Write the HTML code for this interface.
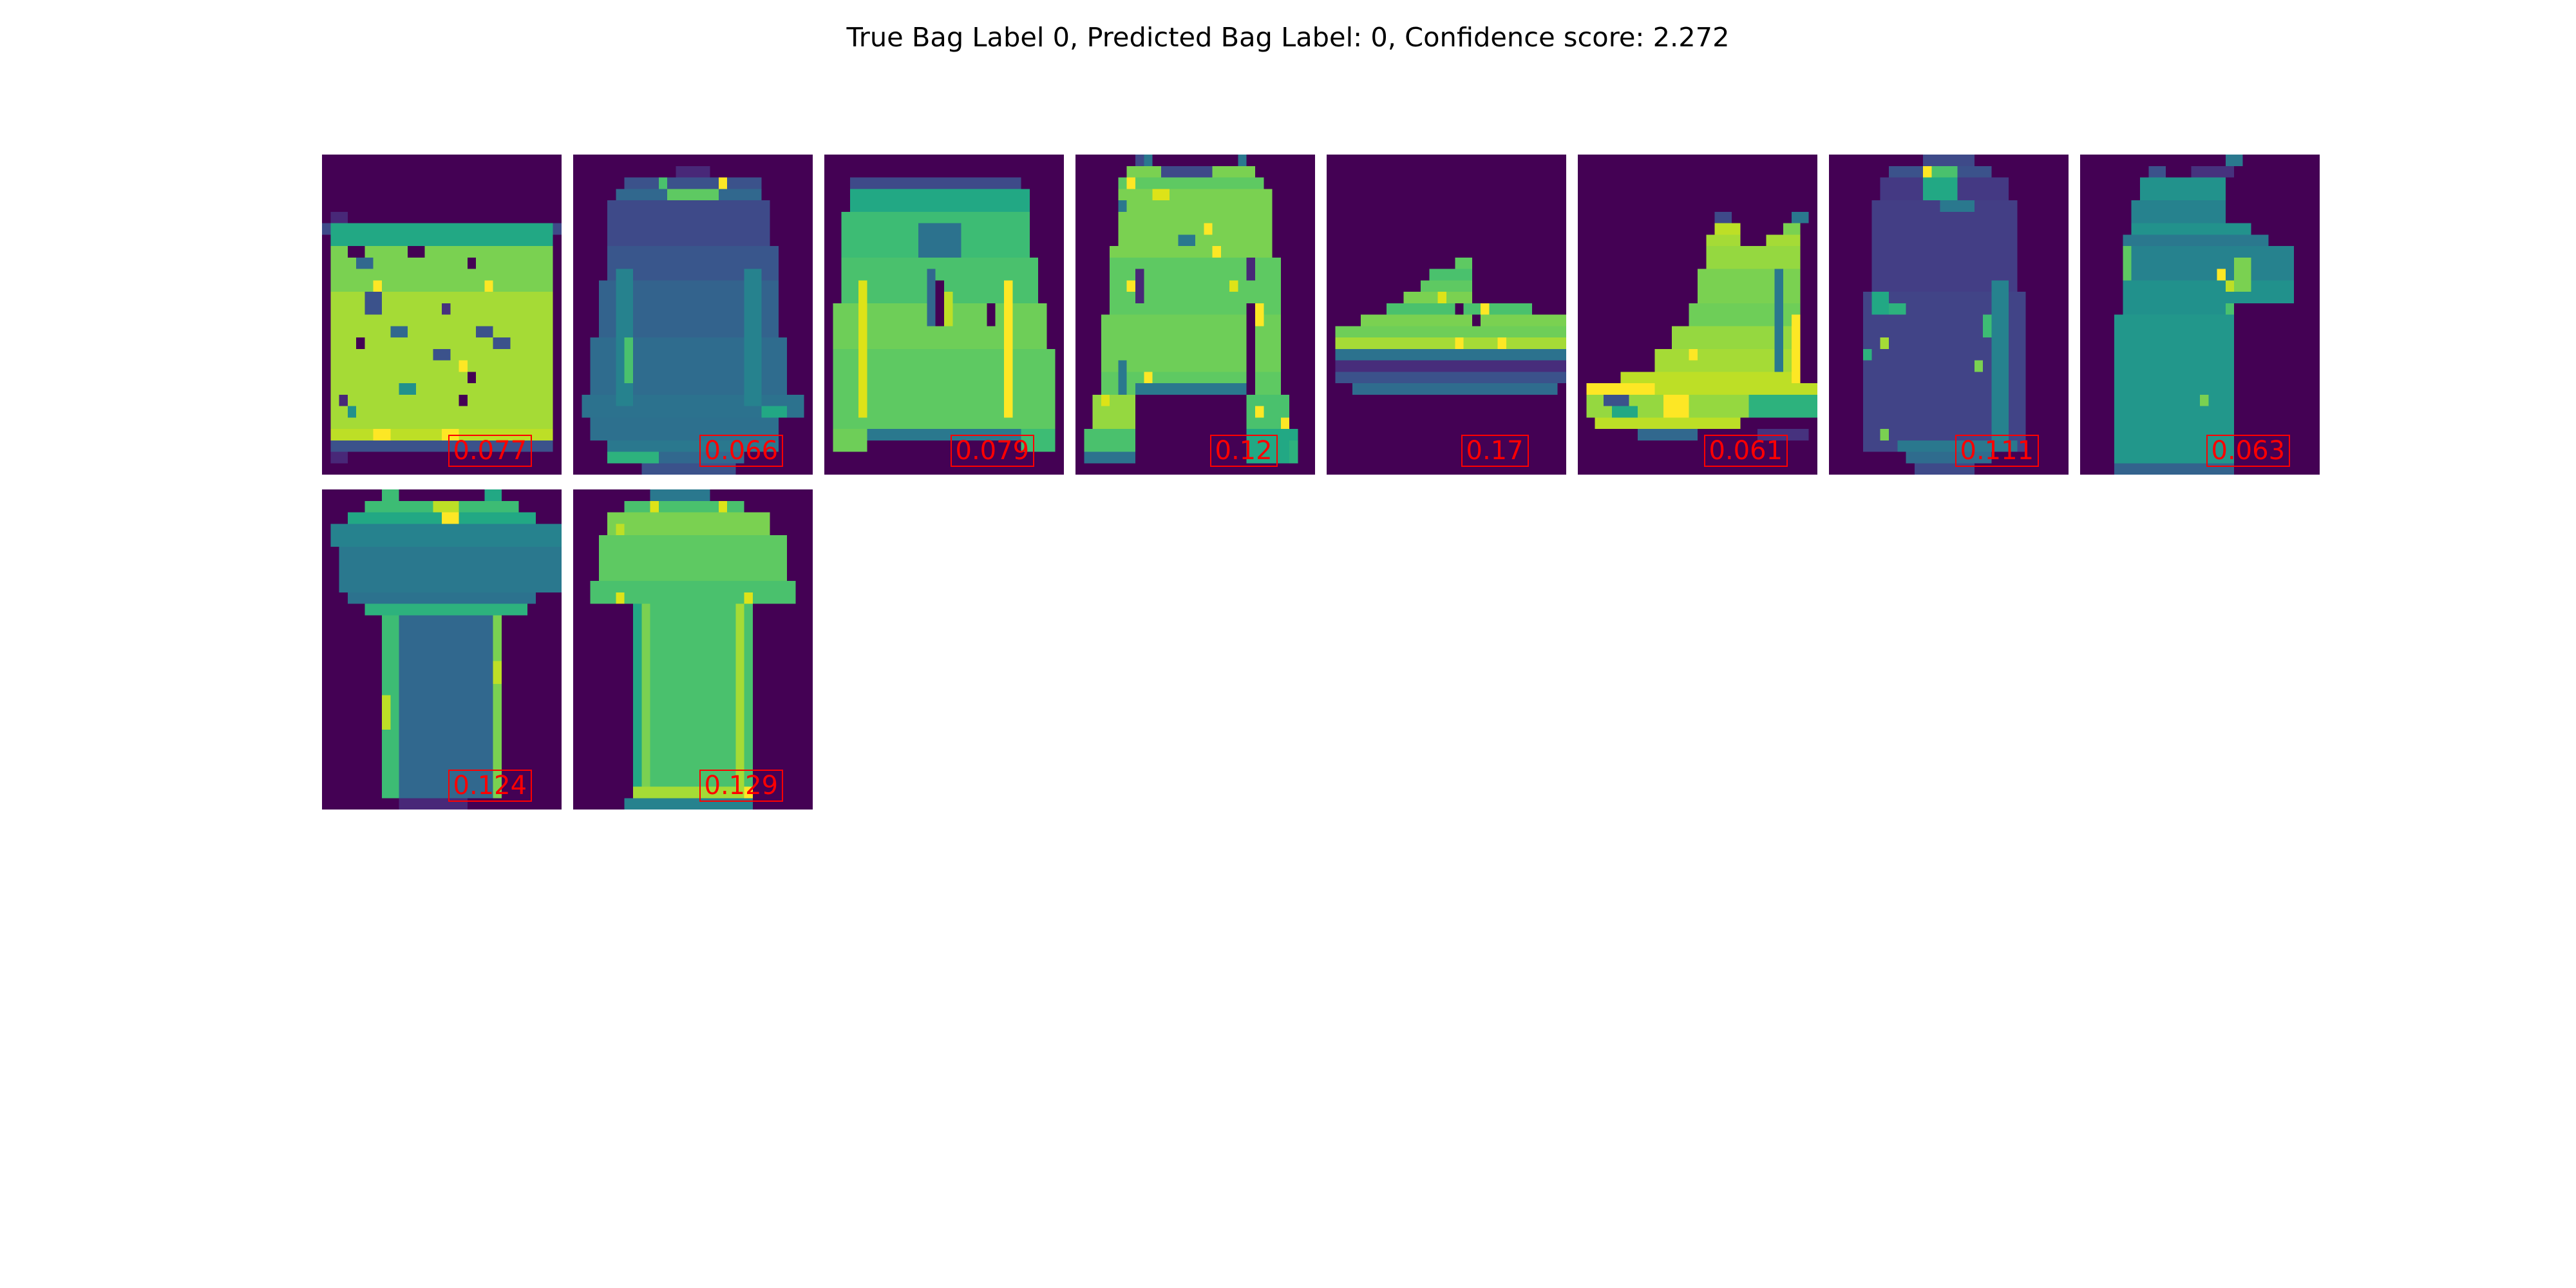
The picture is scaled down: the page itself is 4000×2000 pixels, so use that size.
<!DOCTYPE html>
<html><head><meta charset="utf-8"><style>
html,body{margin:0;padding:0;background:#fff}
#root{position:relative;width:4000px;height:2000px;overflow:hidden;background:#fff;font-family:"DejaVu Sans","Liberation Sans",sans-serif}
.tile{position:absolute;width:372px;height:497px}
.tile svg{position:absolute;left:0;top:0;width:372px;height:497px}
.lbl{position:absolute;border:2px solid #ff0000;color:#ff0000;font-size:40px;line-height:46px;padding:0 6px;white-space:nowrap}
</style></head><body>
<div id="root">
<svg width="4000" height="100" style="position:absolute;left:0;top:0">
<text x="2000" y="72" text-anchor="middle" font-size="41" textLength="1371" lengthAdjust="spacingAndGlyphs" font-family="DejaVu Sans, Liberation Sans, sans-serif" fill="#000">True Bag Label 0, Predicted Bag Label: 0, Confidence score: 2.272</text>
</svg>
</div>
<script>
const scores = ['0.077','0.066','0.079','0.12','0.17','0.061','0.111','0.063','0.124','0.129'];
const BG='#440154';
// rect lists in 28x28 pixel grid: [x,y,w,h,color]
const shapes = [
 [[1,5,2,1,'#482878'],[0,6,28,1,'#3e4a89'],[1,6,26,2,'#22a884'],[1,8,26,4,'#7ad151'],[1,12,26,12,'#a5db36'],[1,24,26,1,'#bddf26'],[1,25,26,1,'#3b528b'],[1,26,2,1,'#482878'],
  [3,8,2,1,'#440154'],[10,8,2,1,'#440154'],[4,9,2,1,'#31688e'],[17,9,1,1,'#440154'],[5,12,2,2,'#3b528b'],[14,13,1,1,'#46327e'],[18,15,2,1,'#3b528b'],[4,16,1,1,'#440154'],[8,15,2,1,'#31688e'],[13,17,2,1,'#3b528b'],[20,16,2,1,'#3b528b'],[9,20,2,1,'#21918c'],[17,19,1,1,'#440154'],[2,21,1,1,'#482878'],[16,21,1,1,'#440154'],[3,22,1,1,'#21918c'],[6,24,2,1,'#fde725'],[14,24,2,1,'#fde725'],[6,11,1,1,'#fde725'],[19,11,1,1,'#fde725'],[16,18,1,1,'#fde725']],
 [[12,1,4,1,'#482878'],[6,2,16,1,'#3b528b'],[10,2,1,1,'#4ac16d'],[17,2,1,1,'#fde725'],[5,3,17,1,'#31688e'],[11,3,6,1,'#5ec962'],[4,4,19,4,'#3e4a89'],[4,8,20,3,'#39568c'],[3,11,21,5,'#33638d'],[2,16,23,5,'#2f6c8e'],[1,21,26,2,'#2c728e'],[2,23,22,2,'#2d708e'],[4,25,20,1,'#2a788e'],[4,26,6,1,'#2db27d'],[10,26,10,1,'#31688e'],[8,27,11,1,'#3b528b'],[5,10,2,12,'#26828e'],[20,10,2,12,'#26828e'],[6,16,1,4,'#4ac16d'],[22,22,3,1,'#22a884']],
 [[3,2,20,1,'#3e4a89'],[3,3,21,2,'#22a884'],[2,5,22,4,'#3dbc74'],[2,9,23,4,'#4ac16d'],[1,13,25,4,'#6ece58'],[1,17,26,7,'#5ec962'],[1,24,26,1,'#2a788e'],[1,24,4,2,'#6ece58'],[23,24,4,2,'#3dbc74'],[4,11,1,12,'#dde318'],[21,11,1,12,'#fde725'],[13,11,1,4,'#440154'],[12,10,1,5,'#31688e'],[14,12,1,3,'#bddf26'],[19,13,1,2,'#440154'],[11,6,5,3,'#2c728e']],
 [[7,0,1,1,'#3e4a89'],[8,0,1,1,'#2a788e'],[19,0,1,1,'#2a788e'],[6,1,15,1,'#7ad151'],[10,1,6,1,'#3e4a89'],[5,2,17,1,'#5ec962'],[5,3,18,5,'#7ad151'],[4,8,19,1,'#7ad151'],[4,9,20,5,'#5ec962'],[3,14,21,5,'#6ece58'],[3,19,21,2,'#5ec962'],[7,20,13,1,'#2a788e'],
  [2,21,5,3,'#95d840'],[1,24,6,2,'#4ac16d'],[1,26,6,1,'#2c728e'],[20,21,5,3,'#4ac16d'],[20,24,6,3,'#22a884'],[25,25,1,2,'#2db27d'],
  [5,4,1,1,'#2a788e'],[9,3,2,1,'#dde318'],[6,2,1,1,'#fde725'],[15,6,1,1,'#fde725'],[16,8,1,1,'#fde725'],[6,11,1,1,'#fde725'],[18,11,1,1,'#dde318'],[21,13,1,2,'#fde725'],[8,19,1,1,'#fde725'],[7,10,1,3,'#482878'],[20,13,1,8,'#440154'],[20,9,1,2,'#482878'],[12,7,2,1,'#2a788e'],[5,18,1,3,'#2a788e'],[3,21,1,1,'#dde318'],[24,23,1,1,'#fde725'],[21,22,1,1,'#fde725']],
 [[15,9,2,1,'#5ec962'],[12,10,5,1,'#4ac16d'],[11,11,6,1,'#5ec962'],[9,12,8,1,'#7ad151'],[7,13,17,1,'#4ac16d'],[4,14,24,1,'#7ad151'],[1,15,27,1,'#6ece58'],[1,16,27,1,'#a5db36'],[1,17,27,1,'#2c728e'],[1,18,27,1,'#472d7b'],[1,19,27,1,'#3b528b'],[3,20,24,1,'#2f6c8e'],[15,13,1,1,'#440154'],[17,14,1,1,'#440154'],[15,16,1,1,'#fde725'],[20,16,1,1,'#fde725'],[13,12,1,1,'#dde318'],[18,13,1,1,'#fde725']],
 [[16,5,2,1,'#3e4a89'],[25,5,2,1,'#2a788e'],[16,6,3,1,'#bddf26'],[24,6,2,1,'#7ad151'],[15,7,4,1,'#a5db36'],[22,7,4,1,'#a5db36'],[15,8,11,2,'#95d840'],[14,10,12,3,'#7ad151'],[13,13,13,2,'#6ece58'],[11,15,15,2,'#95d840'],[9,17,17,2,'#a5db36'],[5,19,21,1,'#bddf26'],[1,20,27,1,'#fde725'],[1,20,8,1,'#fde725'],[9,20,19,1,'#bddf26'],[1,21,27,2,'#95d840'],[3,21,3,1,'#3b528b'],[4,22,3,1,'#22a884'],[2,23,18,1,'#bddf26'],[7,24,7,1,'#31688e'],[21,24,6,1,'#46327e'],[19,23,1,1,'#440154'],[20,21,8,2,'#2db27d'],[23,10,1,9,'#2a788e'],[25,14,1,6,'#fde725'],[10,21,3,2,'#fde725'],[13,17,1,1,'#fde725']],
 [[11,0,6,1,'#3e4a89'],[7,1,12,1,'#3b528b'],[11,1,1,1,'#fde725'],[12,1,3,1,'#4ac16d'],[6,2,15,2,'#443983'],[11,2,4,2,'#22a884'],[5,4,17,8,'#433e85'],[13,4,4,1,'#2a788e'],[4,12,19,14,'#414487'],[5,12,2,2,'#22a884'],[7,13,2,1,'#2db27d'],[18,14,2,2,'#3dbc74'],[6,16,1,1,'#a5db36'],[17,18,1,1,'#7ad151'],[4,17,1,1,'#2db27d'],[6,24,1,1,'#7ad151'],[8,25,14,1,'#2a788e'],[9,26,10,1,'#2f6c8e'],[10,27,7,1,'#3e4a89'],[19,11,2,14,'#26828e']],
 [[17,0,2,1,'#2a788e'],[8,1,2,1,'#3b528b'],[13,1,5,1,'#46327e'],[7,2,10,2,'#22928c'],[6,4,11,2,'#26828e'],[6,6,14,1,'#22928c'],[5,7,17,1,'#2a788e'],[5,8,20,3,'#26828e'],[5,11,20,2,'#21918c'],[5,13,13,1,'#21918c'],[4,14,14,14,'#22978b'],[4,27,14,1,'#33638d'],[16,10,1,1,'#fde725'],[17,11,1,1,'#bddf26'],[19,11,1,1,'#dde318'],[18,9,2,3,'#7ad151'],[5,8,1,3,'#5ec962'],[17,13,1,1,'#4ac16d'],[14,21,1,1,'#7ad151']],
 [[7,0,2,1,'#3dbc74'],[19,0,2,1,'#22a884'],[5,1,18,1,'#3dbc74'],[13,1,3,1,'#bddf26'],[3,2,22,1,'#22a884'],[14,2,2,1,'#fde725'],[1,3,27,2,'#26828e'],[2,5,26,4,'#2a788e'],[3,9,22,1,'#2c728e'],[5,10,19,1,'#2db27d'],[7,11,14,16,'#31688e'],[7,11,2,16,'#3dbc74'],[20,11,1,16,'#7ad151'],[20,15,1,2,'#bddf26'],[7,18,1,3,'#bddf26'],[9,27,8,1,'#482878']],
 [[9,0,7,1,'#2a788e'],[6,1,14,1,'#4ac16d'],[9,1,1,1,'#dde318'],[17,1,1,1,'#dde318'],[4,2,19,2,'#7ad151'],[3,4,22,6,'#5ec962'],[2,8,24,2,'#4ac16d'],[5,3,1,1,'#bddf26'],[5,9,1,1,'#dde318'],[20,9,1,1,'#dde318'],[7,10,14,17,'#4ac16d'],[7,10,1,16,'#22a884'],[8,10,1,16,'#7ad151'],[19,10,1,16,'#a5db36'],[7,26,14,1,'#a5db36'],[20,26,1,1,'#fde725'],[6,27,15,1,'#26828e']]
];
const root=document.getElementById('root');
const NS='http://www.w3.org/2000/svg';
shapes.forEach((rects,i)=>{
  const col=i%8,row=Math.floor(i/8);
  const x=500+390*col,y=240+520*row;
  const t=document.createElement('div');
  t.className='tile';
  t.style.left=x+'px';t.style.top=y+'px';
  
  
  const s=document.createElementNS(NS,'svg');
  s.setAttribute('viewBox','0 0 28 28');
  s.setAttribute('preserveAspectRatio','none');
  s.setAttribute('shape-rendering','crispEdges');
  let h='<rect x="0" y="0" width="28" height="28" fill="'+BG+'"/>';
  rects.forEach(r=>{h+='<rect x="'+r[0]+'" y="'+r[1]+'" width="'+r[2]+'" height="'+r[3]+'" fill="'+r[4]+'"/>';});
  s.innerHTML=h;
  t.appendChild(s);
  const l=document.createElement('div');
  l.className='lbl';
  l.textContent=scores[i];
  
  
  t.appendChild(l);
  root.appendChild(t);
  const w=l.offsetWidth;
  l.style.left=(261-w/2)+'px';
  l.style.top='435px';
});
</script>
</body></html>
